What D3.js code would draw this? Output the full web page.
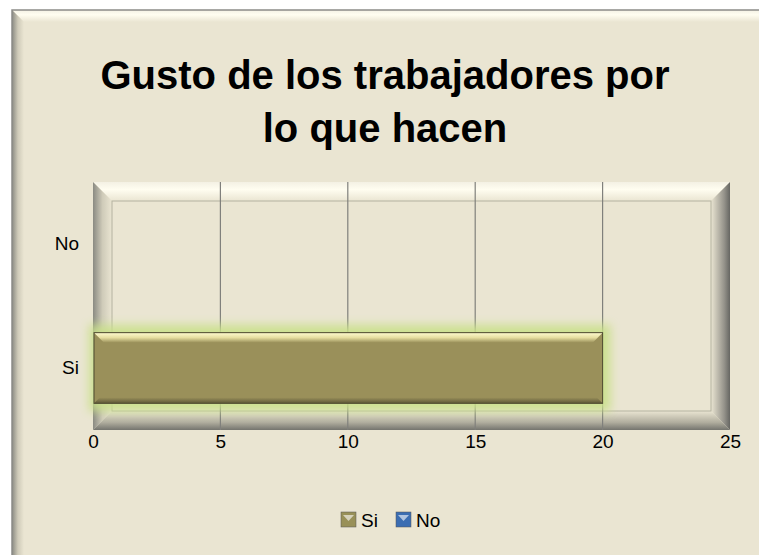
<!DOCTYPE html>
<html>
<head>
<meta charset="utf-8">
<script src="https://cdn.jsdelivr.net/npm/d3@7"></script>
<style>
  body { margin: 0; background: #fff; }
  svg { display: block; font-family: "Liberation Sans", Arial, sans-serif; }
</style>
</head>
<body>
<svg id="chart" width="759" height="555"></svg>
<script>
// data
var categories = ["No", "Si"];
var values = [0, 20];
var xTicks = [0, 5, 10, 15, 20, 25];
var titleLines = ["Gusto de los trabajadores por", "lo que hacen"];
var legendItems = ["Si", "No"];
var legendColors = ["#989058", "#3b6db2"];

var svg = d3.select("#chart");
var defs = svg.append("defs");

function linGrad(id, x1, y1, x2, y2, stops) {
    var g = defs.append("linearGradient").attr("id", id)
        .attr("x1", x1).attr("y1", y1).attr("x2", x2).attr("y2", y2);
    stops.forEach(function(s) {
        g.append("stop").attr("offset", s[0]).attr("stop-color", s[1]);
    });
}
// bevel gradients, used for the frame and plot wall
linGrad("bvTop", 0, 0, 0, 1, [[0, "#f4f1e4"], [0.4, "#fffdf0"], [1, "#eae5d2"]]);
linGrad("bvLeft", 0, 0, 1, 0, [[0, "#8a8a82"], [0.5, "#cfcbb9"], [1, "#eae5d2"]]);
linGrad("bvRight", 1, 0, 0, 0, [[0, "#666662"], [0.3, "#94928a"], [1, "#eae5d2"]]);
linGrad("bvBottom", 0, 1, 0, 0, [[0, "#74746e"], [0.4, "#b0ad9e"], [1, "#eae5d2"]]);
linGrad("barTop", 0, 0, 0, 1, [[0, "#fffbd0"], [0.5, "#e6dea0"], [1, "#9a905a"]]);
linGrad("barBot", 0, 1, 0, 0, [[0, "#5e5838"], [1, "#9a905a"]]);

var glow = defs.append("filter").attr("id", "glow")
    .attr("x", "-10%").attr("y", "-40%").attr("width", "120%").attr("height", "180%");
glow.append("feGaussianBlur").attr("stdDeviation", 5);

var bg = "#eae5d2";

// beveled rectangle
function bevel(g, x0, y0, x1, y1, w) {
    g.append("rect").attr("x", x0).attr("y", y0).attr("width", x1 - x0).attr("height", y1 - y0).attr("fill", bg);
    g.append("path").attr("fill", "url(#bvTop)")
        .attr("d", "M" + x0 + "," + y0 + "H" + x1 + "L" + (x1 - w) + "," + (y0 + w) + "H" + (x0 + w) + "Z");
    g.append("path").attr("fill", "url(#bvLeft)")
        .attr("d", "M" + x0 + "," + y0 + "L" + (x0 + w) + "," + (y0 + w) + "V" + (y1 - w) + "L" + x0 + "," + y1 + "Z");
    g.append("path").attr("fill", "url(#bvRight)")
        .attr("d", "M" + x1 + "," + y0 + "L" + (x1 - w) + "," + (y0 + w) + "V" + (y1 - w) + "L" + x1 + "," + y1 + "Z");
    g.append("path").attr("fill", "url(#bvBottom)")
        .attr("d", "M" + x0 + "," + y1 + "L" + (x0 + w) + "," + (y1 - w) + "H" + (x1 - w) + "L" + x1 + "," + y1 + "Z");
}

// chart frame
var frame = svg.append("g");
bevel(frame, 12, 10, 771, 567, 12);
frame.append("rect").attr("x", 12).attr("y", 10).attr("width", 760).attr("height", 560)
    .attr("fill", "none").attr("stroke", "#8c8c88").attr("stroke-width", 1.5);

// title
svg.append("g").selectAll("text")
    .data(titleLines)
  .enter().append("text")
    .attr("x", 385)
    .attr("y", function(d, i) { return 89 + i * 53; })
    .attr("text-anchor", "middle")
    .style("font-size", "40px")
    .style("font-weight", "bold")
    .text(function(d) { return d; });

// scales
var plotL = 93, plotR = 730, plotT = 182, plotB = 430;
var x = d3.scaleLinear().domain([0, 25]).range([plotL, plotR]);
var y = d3.scaleBand().domain(categories).range([plotT, plotB])
    .paddingInner(0.43).paddingOuter(0.215);

// plot wall
var wall = svg.append("g");
bevel(wall, plotL, plotT, plotR, plotB, 19);
wall.append("rect").attr("x", plotL + 19).attr("y", plotT + 19)
    .attr("width", plotR - plotL - 38).attr("height", plotB - plotT - 38)
    .attr("fill", "none").attr("stroke", "#b4b2a0").attr("stroke-width", 1);

// gridlines
svg.append("g").selectAll("line")
    .data(xTicks.slice(1, -1))
  .enter().append("line")
    .attr("x1", function(d) { return x(d); })
    .attr("x2", function(d) { return x(d); })
    .attr("y1", plotT).attr("y2", plotB)
    .attr("stroke", "#80807c").attr("stroke-width", 1.2);

// bars
var bars = svg.append("g").selectAll("g")
    .data(categories.map(function(c, i) { return {cat: c, val: values[i]}; }).filter(function(d) { return d.val > 0; }))
  .enter().append("g");

bars.append("rect")
    .attr("x", function(d) { return x(0) - 4; })
    .attr("y", function(d) { return y(d.cat) - 8; })
    .attr("width", function(d) { return x(d.val) - x(0) + 12; })
    .attr("height", y.bandwidth() + 16)
    .attr("fill", "#c9e08a").attr("opacity", 0.9)
    .attr("filter", "url(#glow)");

bars.each(function(d) {
    var g = d3.select(this);
    var x0 = x(0) + 1, x1 = x(d.val), y0 = y(d.cat), y1 = y0 + y.bandwidth(), w = 10;
    g.append("rect").attr("x", x0).attr("y", y0).attr("width", x1 - x0).attr("height", y1 - y0)
        .attr("fill", "#9a905a");
    g.append("path").attr("fill", "url(#barTop)")
        .attr("d", "M" + x0 + "," + y0 + "H" + x1 + "L" + (x1 - w) + "," + (y0 + w) + "H" + (x0 + w) + "Z");
    g.append("path").attr("fill", "url(#barBot)")
        .attr("d", "M" + x0 + "," + y1 + "L" + (x0 + 6) + "," + (y1 - 6) + "H" + (x1 - 6) + "L" + x1 + "," + y1 + "Z");
    g.append("rect").attr("x", x0).attr("y", y0).attr("width", x1 - x0).attr("height", y1 - y0)
        .attr("fill", "none").attr("stroke", "#4e4a30").attr("stroke-width", 1);
});

// axes
var xAxis = d3.axisBottom(x).tickValues(xTicks).tickSize(0).tickPadding(5);
svg.append("g")
    .attr("transform", "translate(0," + plotB + ")")
    .call(xAxis)
    .call(function(g) { g.select(".domain").remove(); })
    .selectAll("text")
    .style("font-size", "19px").style("font-family", "Liberation Sans, Arial, sans-serif").attr("fill", "#000");

var yAxis = d3.axisLeft(y).tickSize(0).tickPadding(14);
svg.append("g")
    .attr("transform", "translate(" + plotL + ",0)")
    .call(yAxis)
    .call(function(g) { g.select(".domain").remove(); })
    .selectAll("text")
    .style("font-size", "19px").style("font-family", "Liberation Sans, Arial, sans-serif").attr("fill", "#000");

// legend
var legend = svg.append("g").attr("transform", "translate(341,512)");
var lg = legend.selectAll("g")
    .data(legendItems)
  .enter().append("g")
    .attr("transform", function(d, i) { return "translate(" + (i * 55) + ",0)"; });
lg.append("rect").attr("width", 15).attr("height", 15)
    .attr("fill", function(d, i) { return legendColors[i]; })
    .attr("stroke", "#555").attr("stroke-width", 0.5);
lg.append("path").attr("d", "M2,3H13L7.5,9Z").attr("fill", "#fff").attr("opacity", 0.6);
lg.append("text").attr("x", 20).attr("y", 15)
    .style("font-size", "19px")
    .text(function(d) { return d; });
</script>
</body>
</html>
